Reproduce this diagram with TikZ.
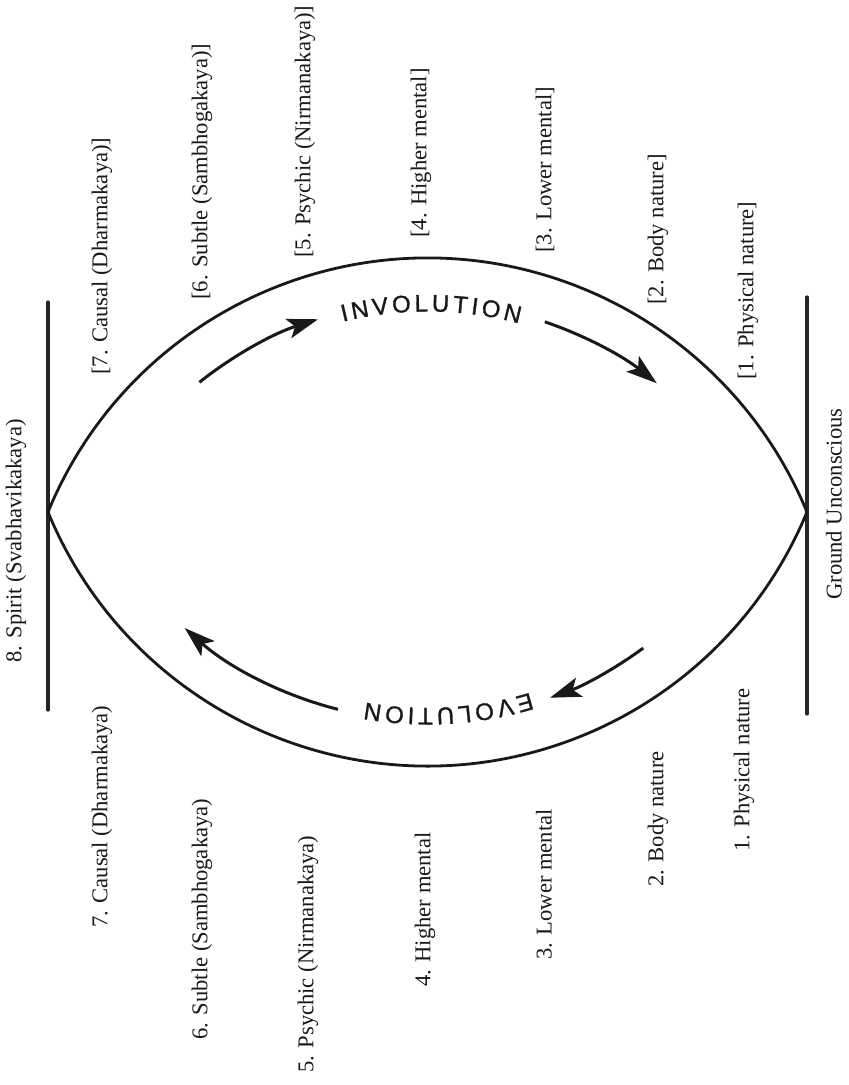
\documentclass[tikz,border=0pt]{standalone}
\usepackage{fontspec}
\setmainfont{Liberation Serif}
\newfontfamily\lblfont{Liberation Serif}
\newfontfamily\evofont[FakeBold=1.2]{Liberation Sans}
\usetikzlibrary{arrows.meta}
\begin{document}
\begin{tikzpicture}[x=1pt,y=1pt,
  lbl/.style={font=\lblfont\fontsize{22.6}{26}\selectfont, rotate=90, anchor=west, inner sep=0pt, text=black!90},
  lens/.style={line width=2.8pt, black!90},
  bar/.style={line width=3.2pt, black!85, line cap=round},
  arr/.style={line width=3pt, black!90, -{Stealth[length=31pt,width=20pt,inset=7pt]}},
  let/.style={font=\evofont\fontsize{24}{28}\selectfont, inner sep=0pt, anchor=base, text=black!90}]
\useasboundingbox[fill=white] (0,0) rectangle (849,-1085);
% key points
\coordinate (tipL) at (48,-512);
\coordinate (tipR) at (807,-512);
\coordinate (cTop) at (427.5,-668.5);
\coordinate (cBot) at (427.5,-355.5);
\coordinate (barLt) at (48,-302);
\coordinate (barLb) at (48,-710);
\coordinate (barRt) at (807,-297);
\coordinate (barRb) at (807,-714);
% vertical bars
\draw[bar] (barLt) -- (barLb);
\draw[bar] (barRt) -- (barRb);
% lens
\draw[lens] (tipL) arc[start angle=157.59, end angle=22.41, radius=410.5pt];
\draw[lens] (tipL) arc[start angle=202.41, end angle=337.59, radius=410.5pt];
% arrows
\coordinate (a1) at ([shift={(128.55:366pt)}]cTop);
\coordinate (a2) at ([shift={(71.3:366pt)}]cTop);
\coordinate (a3) at ([shift={(306.4:363.5pt)}]cBot);
\coordinate (a4) at ([shift={(255.8:365pt)}]cBot);
\draw[arr] (a1) arc[start angle=128.55, end angle=107.4, radius=366pt];
\draw[arr] (a2) arc[start angle=71.3, end angle=51.2, radius=366pt];
\draw[arr] (a3) arc[start angle=306.4, end angle=289.7, radius=363.5pt];
\draw[arr] (a4) arc[start angle=255.8, end angle=228.3, radius=365pt];
% INVOLUTION
\foreach \ch/\a [count=\i] in {I/103.17, N/100.68, V/97.44, O/94.10, L/90.97, U/87.94, T/84.81, I/82.53, O/79.95, N/76.50}
  \node[let, rotate=\a-90] (inv\i) at ([shift={(\a:357pt)}]cTop) {\ch};
% EVOLUTION
\foreach \ch/\a [count=\i] in {E/285.65, V/282.48, O/279.09, L/275.92, U/272.86, T/269.69, I/267.38, O/264.76, N/261.26}
  \node[let, rotate=\a-90] (evo\i) at ([shift={(\a:352.5pt)}]cBot) {\ch};
% top labels
\node[lbl] (t1) at (748,-380) {[1. Physical nature]};
\node[lbl] (t2) at (658,-305) {[2. Body nature]};
\node[lbl] (t3) at (545,-253) {[3. Lower mental]};
\node[lbl] (t4) at (421,-238) {[4. Higher mental]};
\node[lbl] (t5) at (305,-258) {[5. Psychic (Nirmanakaya)]};
\node[lbl] (t6) at (202,-300) {[6. Subtle (Sambhogakaya)]};
\node[lbl] (t7) at (102,-375) {[7. Causal (Dharmakaya)]};
% bottom labels
\node[lbl] (b1) at (744,-852) {1. Physical nature};
\node[lbl] (b2) at (658,-887) {2. Body nature};
\node[lbl] (b3) at (544,-960) {3. Lower mental};
\node[lbl] (b4) at (425,-987) {4. Higher mental};
\node[lbl] (b5) at (308,-1073) {5. Psychic (Nirmanakaya)};
\node[lbl] (b6) at (202,-1040) {6. Subtle (Sambhogakaya)};
\node[lbl] (b7) at (102,-928) {7. Causal (Dharmakaya)};
% ends
\node[lbl] (spirit) at (16,-663) {8. Spirit (Svabhavikakaya)};
\node[lbl] (ground) at (834,-600) {Ground Unconscious};
\end{tikzpicture}
\end{document}
